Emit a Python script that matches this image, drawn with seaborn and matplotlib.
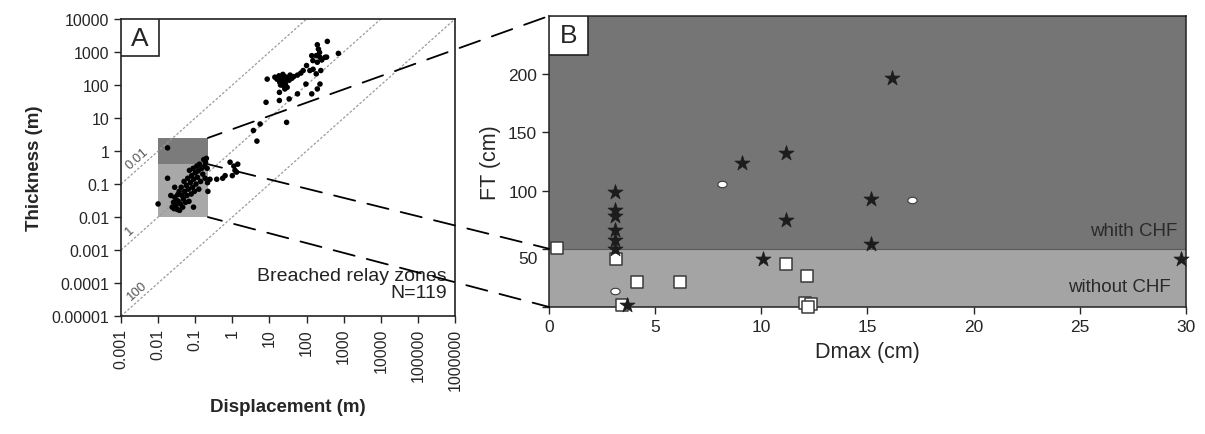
import numpy as np
import pandas as pd
import seaborn as sns
import matplotlib.pyplot as plt
from matplotlib.patches import Rectangle, ConnectionPatch
from matplotlib.transforms import ScaledTranslation

sns.set_style("ticks")
plt.rcParams['font.family'] = ['Liberation Sans', 'DejaVu Sans']
plt.rcParams['xtick.direction'] = 'out'
plt.rcParams['ytick.direction'] = 'out'

# ---- Panel A: breached relay zones (m) ----
disp_small = [0.018, 0.018, 0.010, 0.022, 0.024, 0.026, 0.027, 0.028, 0.030, 0.031, 0.033,
              0.034, 0.035, 0.037, 0.038, 0.040, 0.042, 0.044, 0.046, 0.048, 0.050, 0.052,
              0.055, 0.058, 0.060, 0.063, 0.066, 0.068, 0.070, 0.074, 0.078, 0.080, 0.085,
              0.088, 0.090, 0.095, 0.100, 0.105, 0.110, 0.115, 0.120, 0.125, 0.130, 0.140,
              0.150, 0.160, 0.170, 0.180, 0.185, 0.190, 0.200, 0.210, 0.215, 0.220, 0.090,
              0.028, 0.25, 0.38, 0.55, 0.64, 0.87, 1.0, 1.1, 1.18, 1.3, 1.4]
thick_small = [1.25, 0.15, 0.025, 0.045, 0.020, 0.028, 0.018, 0.040, 0.022, 0.033, 0.017,
               0.048, 0.030, 0.060, 0.016, 0.025, 0.080, 0.045, 0.020, 0.035, 0.120, 0.060,
               0.028, 0.090, 0.045, 0.150, 0.070, 0.030, 0.260, 0.110, 0.050, 0.180, 0.080,
               0.300, 0.140, 0.060, 0.220, 0.100, 0.350, 0.160, 0.250, 0.070, 0.400, 0.120,
               0.300, 0.200, 0.550, 0.350, 0.150, 0.450, 0.600, 0.300, 0.110, 0.060, 0.020,
               0.080, 0.14, 0.14, 0.15, 0.18, 0.46, 0.18, 0.35, 0.26, 0.23, 0.40]
disp_large = [3.7, 4.6, 5.6, 8.1, 8.7, 29, 14, 16, 18, 19, 20, 21, 22, 23, 24, 25, 26, 27,
              28, 30, 32, 34, 36, 40, 45, 57, 70, 81, 18.6, 18.5, 26, 34, 57, 96, 138, 195,
              230, 100, 123, 182, 242, 138, 148, 182, 195, 195, 209, 224, 230, 257, 316,
              347, 363, 720, 150]
thick_large = [4.2, 2.0, 6.6, 30, 151, 7.4, 173, 150, 190, 120, 100, 160, 140, 210, 95, 130,
               180, 110, 150, 85, 170, 140, 200, 160, 180, 200, 230, 275, 60, 34, 76, 38, 54,
               107, 54, 76, 107, 390, 275, 218, 275, 775, 550, 775, 490, 1660, 1230, 970, 690,
               575, 690, 700, 2100, 910, 300]
zoom_disp = (0.01, 0.22)
zoom_thick = (0.01, 0.4, 2.5)
ratios = [0.01, 1, 100]
ratio_labels = ['0.01', '1', '100']
decades_x = [0.001, 0.01, 0.1, 1, 10, 100, 1000, 10000, 100000, 1000000]
decades_x_labels = ['0.001', '0.01', '0.1', '1', '10', '100', '1000', '10000', '100000', '1000000']
decades_y = [0.00001, 0.0001, 0.001, 0.01, 0.1, 1, 10, 100, 1000, 10000]
decades_y_labels = ['0.00001', '0.0001', '0.001', '0.01', '0.1', '1', '10', '100', '1000', '10000']

# ---- Panel B: Dmax vs FT (cm) ----
star_dmax = [3.1, 3.1, 3.1, 3.1, 3.1, 3.1, 3.66, 9.1, 11.15, 11.15, 10.1, 15.15, 15.15, 16.15, 29.75]
star_ft = [99, 83, 78, 66, 57.5, 50, 1.7, 124, 132, 75, 41, 92.5, 53.7, 197, 41.6]
square_dmax = [0.36, 3.15, 4.15, 6.15, 11.15, 12.15, 3.42, 12.05, 12.35, 12.2]
square_ft = [50.9, 40.8, 21.3, 21.5, 36.5, 27, 1.7, 3.4, 2.3, 0.3]
ellipse_dmax = [8.15, 3.1, 17.1]
ellipse_ft = [105.8, 13.8, 92]

fig = plt.figure(figsize=(12.05, 4.35), dpi=100)
axA = fig.add_axes([0.1004, 0.271, 0.2772, 0.683])
axB = fig.add_axes([0.4556, 0.292, 0.5286, 0.669])

# ---------- A ----------
dfA = pd.DataFrame({'disp': disp_small + disp_large, 'thick': thick_small + thick_large})
axA.set_xscale('log')
axA.set_yscale('log')
axA.set_xlim(1e-3, 1e6)
axA.set_ylim(1e-5, 1e4)

axA.add_patch(Rectangle((zoom_disp[0], zoom_thick[1]), zoom_disp[1] - zoom_disp[0],
                        zoom_thick[2] - zoom_thick[1], facecolor='#7b7b7b', edgecolor='none', zorder=0))
axA.add_patch(Rectangle((zoom_disp[0], zoom_thick[0]), zoom_disp[1] - zoom_disp[0],
                        zoom_thick[1] - zoom_thick[0], facecolor='#a8a8a8', edgecolor='none', zorder=0))

xs = np.array([1e-3, 1e6])
p = axA.transData.transform([(1e-3, 1e-3), (1e3, 1e3)])
angle = np.degrees(np.arctan2(p[1, 1] - p[0, 1], p[1, 0] - p[0, 0]))
label_x = [0.0027, 0.00175, 0.0027]
for r, lab, lx in zip(ratios, ratio_labels, label_x):
    axA.plot(xs, xs / r, ls=(0, (2, 1.5)), color='#9a9a9a', lw=0.9, zorder=1)
    axA.text(lx, lx / r * 2.2, lab, rotation=angle, rotation_mode='anchor',
             ha='center', va='center', fontsize=9.5, color='#555555')

sns.scatterplot(data=dfA, x='disp', y='thick', ax=axA, color='black', s=16,
                edgecolor='none', zorder=3)

axA.set_xticks(decades_x)
axA.set_xticklabels(decades_x_labels, rotation=90)
axA.set_yticks(decades_y)
axA.set_yticklabels(decades_y_labels)
axA.minorticks_off()
axA.tick_params(labelsize=11.5, length=5, width=1)
axA.set_xlabel('Displacement (m)', fontsize=13.5, fontweight='bold', labelpad=6)
axA.set_ylabel('Thickness (m)', fontsize=13.5, fontweight='bold', labelpad=6)
for sp in axA.spines.values():
    sp.set_color('#222222')
    sp.set_linewidth(1.2)

axA.text(0.975, 0.05, 'Breached relay zones\nN=119', transform=axA.transAxes,
         ha='right', va='bottom', fontsize=14, color='#222222', linespacing=1.05, zorder=4)
axA.add_patch(Rectangle((0, 0.875), 0.114, 0.125, transform=axA.transAxes,
                        facecolor='white', edgecolor='#222222', lw=1.2, zorder=5))
axA.text(0.057, 0.9375, 'A', transform=axA.transAxes, ha='center', va='center',
         fontsize=19, zorder=6)

# ---------- B ----------
axB.set_xlim(0, 30)
axB.set_ylim(0, 250)
axB.axhspan(50, 250, color='#757575', zorder=0, lw=0)
axB.axhspan(0, 50, color='#a4a4a4', zorder=0, lw=0)
axB.axhline(50, color='#5a5a5a', lw=0.8, zorder=1)

sns.scatterplot(x=square_dmax, y=square_ft, ax=axB, marker='s', s=70, color='white',
                edgecolor='#3a3a3a', linewidth=1.1, zorder=3, clip_on=False)
t = np.linspace(0, 2 * np.pi, 30)
ellipse = np.c_[1.45 * np.cos(t), np.sin(t)]
sns.scatterplot(x=ellipse_dmax, y=ellipse_ft, ax=axB, marker=ellipse, s=45, color='white',
                edgecolor='#3a3a3a', linewidth=0.8, zorder=3)
sns.scatterplot(x=star_dmax, y=star_ft, ax=axB, marker='*', s=130, color='#1c1c1c',
                edgecolor='#1c1c1c', linewidth=0.5, zorder=4, clip_on=False)

axB.set_xticks(range(0, 31, 5))
axB.set_yticks([0, 50, 100, 150, 200])
axB.set_yticklabels(['', '50', '100', '150', '200'])
axB.tick_params(labelsize=12.5, length=5, width=1)
lbl50 = axB.get_yticklabels()[1]
lbl50.set_transform(lbl50.get_transform() + ScaledTranslation(0, -6 / 72, fig.dpi_scale_trans))
axB.set_xlabel('Dmax (cm)', fontsize=15.5, labelpad=5)
axB.set_ylabel('FT (cm)', fontsize=15.5, labelpad=5)
for sp in axB.spines.values():
    sp.set_color('#222222')
    sp.set_linewidth(1.1)

axB.text(29.6, 62, 'whith CHF', ha='right', va='baseline', fontsize=13.5, color='#2a2a2a')
axB.text(29.3, 14, 'without CHF', ha='right', va='baseline', fontsize=13.5, color='#2a2a2a')
axB.add_patch(Rectangle((0, 0.866), 0.061, 0.134, transform=axB.transAxes,
                        facecolor='white', edgecolor='#222222', lw=1.2, zorder=5))
axB.text(0.0305, 0.933, 'B', transform=axB.transAxes, ha='center', va='center',
         fontsize=19, zorder=6)

# ---------- zoom connectors ----------
for ya, yb in [(zoom_thick[2], 250), (zoom_thick[1], 50), (zoom_thick[0], 0)]:
    con = ConnectionPatch(xyA=(zoom_disp[1], ya), coordsA='data', axesA=axA,
                          xyB=(0, yb), coordsB='data', axesB=axB,
                          color='black', lw=1.3, linestyle=(4, (12, 7)), zorder=10)
    fig.add_artist(con)

fig.savefig('out.png', dpi=100)
